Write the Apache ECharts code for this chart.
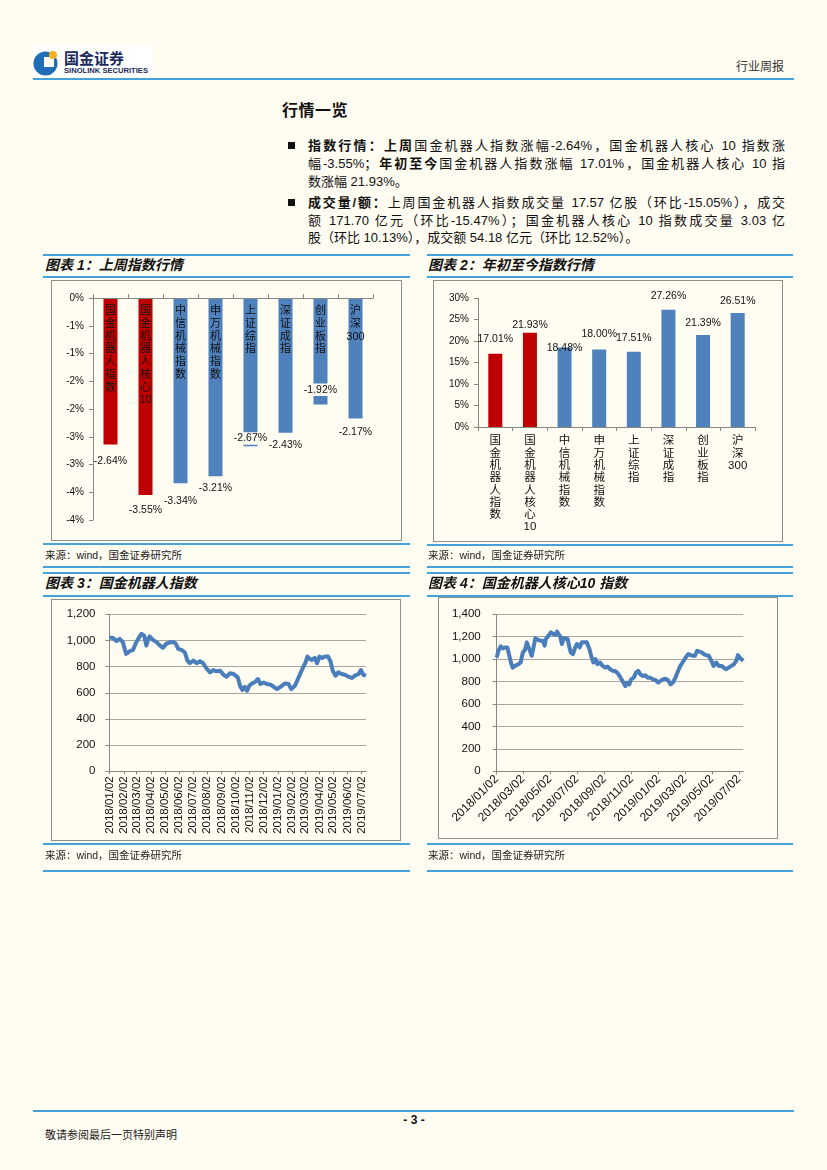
<!DOCTYPE html>
<html><head><meta charset="utf-8">
<script src="https://cdn.jsdelivr.net/npm/echarts@6/dist/echarts.min.js"></script>
<style>
html,body{margin:0;padding:0;}
body{width:827px;height:1170px;background:#FFFCF2;position:relative;overflow:hidden;font-family:"Liberation Sans","Noto Sans CJK SC",sans-serif;color:#111;}
.a{position:absolute;white-space:nowrap;}
.hl{position:absolute;height:2px;background:#45A2D8;}
.box{position:absolute;border:1px solid #8e8e8e;box-sizing:border-box;pointer-events:none;}
.ch{position:absolute;}
.tl{position:absolute;font-weight:bold;font-style:italic;font-size:14px;line-height:18px;white-space:nowrap;}
.src{position:absolute;font-size:10.5px;line-height:14px;white-space:nowrap;color:#222;}
.ln{position:absolute;left:308px;width:477px;font-size:13px;line-height:18px;white-space:nowrap;text-align:justify;text-align-last:justify;}
.ln.last{text-align:left;text-align-last:left;}
.ln b{font-weight:bold;}
.sq{position:absolute;width:7px;height:7px;background:#111;}
</style></head>
<body>
<!-- header -->
<div class="a" style="left:32px;top:45px;width:121px;height:31px;background:#fff;"></div>
<svg class="a" style="left:33px;top:49px;" width="28" height="28" viewBox="0 0 28 28">
  <circle cx="12.5" cy="14.5" r="12" fill="#1F6DB5"/>
  <rect x="11" y="8" width="10" height="10" fill="#fff"/>
  <circle cx="20" cy="6" r="4" fill="#F2B21B"/>
</svg>
<div class="a" style="left:64px;top:49px;font-size:15px;font-weight:bold;color:#1a2b5c;line-height:18px;font-family:'Noto Sans CJK SC';">国金证券</div>
<div class="a" style="left:64px;top:67px;font-size:7.6px;font-weight:bold;color:#1a2b5c;line-height:8px;">SINOLINK SECURITIES</div>
<div class="a" style="left:736px;top:59px;font-size:12px;line-height:16px;color:#333;">行业周报</div>
<div class="hl" style="left:33px;top:78px;width:761px;"></div>

<div class="a" style="left:282px;top:101px;font-size:16px;font-weight:bold;line-height:20px;letter-spacing:0.5px;">行情一览</div>

<div class="sq" style="left:288px;top:142px;"></div>
<div class="ln" style="top:137px;"><b>指数行情：上周</b>国金机器人指数涨幅-2.64%，国金机器人核心 10 指数涨</div>
<div class="ln" style="top:155px;">幅-3.55%；<b>年初至今</b>国金机器人指数涨幅 17.01%，国金机器人核心 10 指</div>
<div class="ln last" style="top:173px;">数涨幅 21.93%。</div>
<div class="sq" style="left:288px;top:199px;"></div>
<div class="ln" style="top:194px;"><b>成交量/额：</b>上周国金机器人指数成交量 17.57 亿股（环比-15.05%），成交</div>
<div class="ln" style="top:212px;">额 171.70 亿元（环比-15.47%）；国金机器人核心 10 指数成交量 3.03 亿</div>
<div class="ln last" style="top:229px;">股（环比 10.13%），成交额 54.18 亿元（环比 12.52%）。</div>

<!-- panel lines -->
<div class="hl" style="left:43px;top:254px;width:367px;"></div>
<div class="hl" style="left:427px;top:254px;width:366px;"></div>
<div class="tl" style="left:45px;top:256px;">图表 1：上周指数行情</div>
<div class="tl" style="left:428px;top:256px;">图表 2：年初至今指数行情</div>
<div class="hl" style="left:43px;top:276px;width:367px;"></div>
<div class="hl" style="left:427px;top:276px;width:366px;"></div>
<div id="c1" class="ch" style="left:51px;top:280px;width:351px;height:261px;"></div>
<div class="box" style="left:51px;top:280px;width:351px;height:261px;"></div>
<div id="c2" class="ch" style="left:433px;top:280px;width:350px;height:262px;"></div>
<div class="box" style="left:433px;top:280px;width:350px;height:262px;"></div>
<div class="hl" style="left:43px;top:543px;width:367px;"></div>
<div class="hl" style="left:427px;top:544px;width:366px;"></div>
<div class="src" style="left:45px;top:548px;">来源：wind，国金证券研究所</div>
<div class="src" style="left:428px;top:548px;">来源：wind，国金证券研究所</div>
<div class="hl" style="left:43px;top:566px;width:367px;"></div>
<div class="hl" style="left:427px;top:566px;width:366px;"></div>

<div class="hl" style="left:43px;top:572px;width:367px;"></div>
<div class="hl" style="left:427px;top:572px;width:366px;"></div>
<div class="tl" style="left:45px;top:574px;">图表 3：国金机器人指数</div>
<div class="tl" style="left:428px;top:574px;">图表 4：国金机器人核心10 指数</div>
<div class="hl" style="left:43px;top:595px;width:367px;"></div>
<div class="hl" style="left:427px;top:595px;width:366px;"></div>
<div id="c3" class="ch" style="left:51px;top:599px;width:350px;height:242px;"></div>
<div class="box" style="left:51px;top:599px;width:350px;height:242px;"></div>
<div id="c4" class="ch" style="left:438px;top:597px;width:340px;height:242px;"></div>
<div class="box" style="left:438px;top:597px;width:340px;height:242px;"></div>
<div class="hl" style="left:43px;top:843px;width:367px;"></div>
<div class="hl" style="left:427px;top:843px;width:366px;"></div>
<div class="src" style="left:45px;top:848px;">来源：wind，国金证券研究所</div>
<div class="src" style="left:428px;top:848px;">来源：wind，国金证券研究所</div>
<div class="hl" style="left:43px;top:870px;width:367px;"></div>
<div class="hl" style="left:427px;top:870px;width:366px;"></div>

<!-- footer -->
<div class="hl" style="left:33px;top:1110px;width:761px;"></div>
<div class="a" style="left:400px;top:1113px;width:28px;text-align:center;font-size:12px;font-weight:bold;line-height:15px;">- 3 -</div>
<div class="a" style="left:45px;top:1128px;font-size:11px;line-height:14px;color:#222;">敬请参阅最后一页特别声明</div>

<script>
// ---------- data ----------
const categories = ['国金机器人指数','国金机器人核心10','中信机械指数','申万机械指数','上证综指','深证成指','创业板指','沪深300'];
const weekChange = [-2.64,-3.55,-3.34,-3.21,-2.67,-2.43,-1.92,-2.17];
const ytdChange = [17.01,21.93,18.48,18.00,17.51,27.26,21.39,26.51];
const yTicks1 = ['0%','-1%','-1%','-2%','-2%','-3%','-3%','-4%','-4%'];
const yTicks2 = ['0%','5%','10%','15%','20%','25%','30%'];
const startDate = '2018/01/02';
const endDate = '2019/07/12';
// calendar days after 2018/01/02 and index level (国金机器人指数)
const days3 = [0,7,15,22,29,36,44,51,58,62,69,75,80,84,87,94,102,109,116,123,131,138,143,149,156,163,169,174,182,189,196,203,207,211,218,225,232,240,247,254,261,269,278,283,288,293,298,303,309,314,322,327,334,341,349,356,363,367,374,381,388,394,402,410,418,425,429,434,439,445,450,455,461,467,474,479,484,490,496,503,510,518,525,532,540,545,550,556];
const vals3 = [1020,1020,995,1013,987,897,918,928,987,1000,1051,1038,962,1013,1031,1005,987,962,944,974,987,987,979,936,928,910,846,826,846,826,841,826,833,782,756,774,764,769,738,723,749,744,718,654,621,646,615,654,672,679,705,667,679,667,662,646,628,615,654,672,667,628,654,718,782,833,877,859,851,867,826,877,867,877,877,841,769,731,756,744,738,723,713,731,744,774,738,731];
// calendar days after 2018/01/02 and index level (国金机器人核心10指数)
const days4 = [0,4,9,14,19,24,28,32,36,41,49,54,59,64,68,72,75,79,83,87,92,98,104,108,111,117,122,127,132,136,139,143,147,151,154,160,164,167,172,177,181,187,192,197,203,209,213,218,223,227,233,239,245,250,256,262,267,273,277,281,286,290,294,299,303,309,314,319,324,329,335,341,346,352,358,364,369,374,380,386,392,397,403,409,414,419,426,432,437,442,447,452,456,462,467,472,478,484,489,495,501,507,512,517,523,529,535,540,544,550,553,556];
const vals4 = [1015,1075,1114,1096,1105,1105,1111,970,925,940,955,970,1060,1084,1150,1105,1075,1030,1105,1186,1174,1165,1165,1120,1180,1210,1240,1225,1216,1246,1225,1204,1135,1186,1174,1180,1105,1060,1045,1105,1135,1105,1150,1150,1150,1090,1030,970,1000,955,970,940,925,934,910,895,895,874,850,835,790,760,790,775,820,835,880,895,865,850,856,835,835,820,814,790,805,820,826,814,775,790,835,895,940,970,1015,1045,1036,1030,1030,1075,1090,1060,1045,1036,1030,985,940,970,940,940,925,910,925,940,955,985,1036,1006,1015,985];

// ---------- styles / layout ----------
const RED = '#C00000', BLUE = '#4F81BD', LINE = '#4A7EBB', AX = '#878787', GRID = '#A9A6A0', TXT = '#111';
const FONT = '"Liberation Sans","Noto Sans CJK SC",sans-serif';
const lblDy1 = [3,2,4,-1,-22,-1,-29,0];
const lblBg1 = [false,false,false,false,true,false,true,false];
const lblDy2 = [-2,5,13,-3,-1,-1,0,0];

function stack(s){ return s.match(/\d+|./g).join('\n'); }

// calendar categories
function pad(n){return String(n).padStart(2,'0');}
const dates = [];
(function(){
  const p = startDate.split('/').map(Number), q = endDate.split('/').map(Number);
  let t = Date.UTC(p[0],p[1]-1,p[2]); const e = Date.UTC(q[0],q[1]-1,q[2]);
  while (t <= e) { const d = new Date(t); dates.push(d.getUTCFullYear()+'/'+pad(d.getUTCMonth()+1)+'/'+pad(d.getUTCDate())); t += 864e5; }
})();
function seriesFrom(days, vals){
  const arr = dates.map(() => null);
  days.forEach((d,i) => { arr[d] = vals[i]; });
  return arr;
}
function thousands(v){ return String(v).replace(/\B(?=(\d{3})+$)/g, ','); }

// ---------- chart 1 ----------
const c1 = echarts.init(document.getElementById('c1'), null, {renderer:'canvas'});
c1.setOption({
  animation:false,
  grid:{left:42,right:29,top:18,bottom:21},
  xAxis:{type:'category',data:categories,position:'top',z:10,
    axisLine:{lineStyle:{color:AX}},
    axisTick:{show:true,length:4,lineStyle:{color:AX}},
    axisLabel:{inside:true,margin:7,formatter:stack,fontSize:11,lineHeight:12.7,color:TXT,fontFamily:FONT,interval:0}},
  yAxis:{type:'value',min:-4,max:0,interval:0.5,splitLine:{show:false},
    axisLine:{show:true,lineStyle:{color:AX}},
    axisTick:{show:true,length:4,lineStyle:{color:AX}},
    axisLabel:{formatter:v=>yTicks1[Math.round(-v/0.5)],fontSize:10,color:TXT,margin:9,fontFamily:FONT}},
  series:[{type:'bar',barWidth:14,z:2,
    data:weekChange.map((v,i)=>({value:v,itemStyle:{color:i<2?RED:BLUE},
      label:{offset:[0,lblDy1[i]],backgroundColor:lblBg1[i]?'#FFFCF2':'transparent',padding:lblBg1[i]?[1,1]:0}})),
    label:{show:true,position:'bottom',distance:8,formatter:p=>p.value.toFixed(2)+'%',fontSize:10.5,color:TXT,fontFamily:FONT}}]
});

// ---------- chart 2 ----------
const c2 = echarts.init(document.getElementById('c2'));
c2.setOption({
  animation:false,
  grid:{left:45,right:28,top:18,bottom:115},
  xAxis:{type:'category',data:categories,
    axisLine:{lineStyle:{color:AX}},
    axisTick:{show:true,length:4,lineStyle:{color:AX}},
    axisLabel:{margin:8,formatter:stack,fontSize:11.5,lineHeight:12.3,color:TXT,fontFamily:FONT,interval:0}},
  yAxis:{type:'value',min:0,max:30,interval:5,splitLine:{show:false},
    axisLine:{show:true,lineStyle:{color:AX}},
    axisTick:{show:true,length:4,lineStyle:{color:AX}},
    axisLabel:{formatter:v=>yTicks2[Math.round(v/5)],fontSize:10,color:TXT,margin:9,fontFamily:FONT}},
  series:[{type:'bar',barWidth:14,
    data:ytdChange.map((v,i)=>({value:v,itemStyle:{color:i<2?RED:BLUE},label:{offset:[0,lblDy2[i]]}})),
    label:{show:true,position:'top',distance:7,formatter:p=>p.value.toFixed(2)+'%',fontSize:10.5,color:TXT,fontFamily:FONT}}]
});

// ---------- line charts ----------
function lineOpt(days, vals, grid, ymax, rot, labFn, fs, margin, ymargin){
  return {
    animation:false,
    grid:grid,
    xAxis:{type:'category',data:dates,boundaryGap:false,
      axisLine:{lineStyle:{color:AX}},
      axisTick:{show:true,length:3,interval:labFn,lineStyle:{color:AX}},
      axisLabel:{rotate:rot,interval:labFn,fontSize:fs,color:TXT,margin:margin,fontFamily:FONT,hideOverlap:false}},
    yAxis:{type:'value',min:0,max:ymax,interval:200,
      splitLine:{show:true,lineStyle:{color:GRID,width:1}},
      axisLine:{show:true,lineStyle:{color:AX}},
      axisTick:{show:true,length:4,lineStyle:{color:AX}},
      axisLabel:{formatter:thousands,fontSize:11.5,color:TXT,margin:ymargin,fontFamily:FONT}},
    series:[{type:'line',data:seriesFrom(days,vals),connectNulls:true,showSymbol:false,symbol:'none',
      lineStyle:{color:LINE,width:4,join:'round'}}]
  };
}
const monthly = (i,v) => v.slice(8) === '02';
const bimonthly = (i,v) => v.slice(8) === '02' && Number(v.slice(5,7)) % 2 === 1;
echarts.init(document.getElementById('c3')).setOption(
  lineOpt(days3, vals3, {left:58.5,right:35,top:15.3,bottom:69.7}, 1200, 90, monthly, 11.5, 5, 14));
echarts.init(document.getElementById('c4')).setOption(
  lineOpt(days4, vals4, {left:58.7,right:34.7,top:17.3,bottom:67.7}, 1400, 45, bimonthly, 12, 6, 16));
</script>
</body></html>
